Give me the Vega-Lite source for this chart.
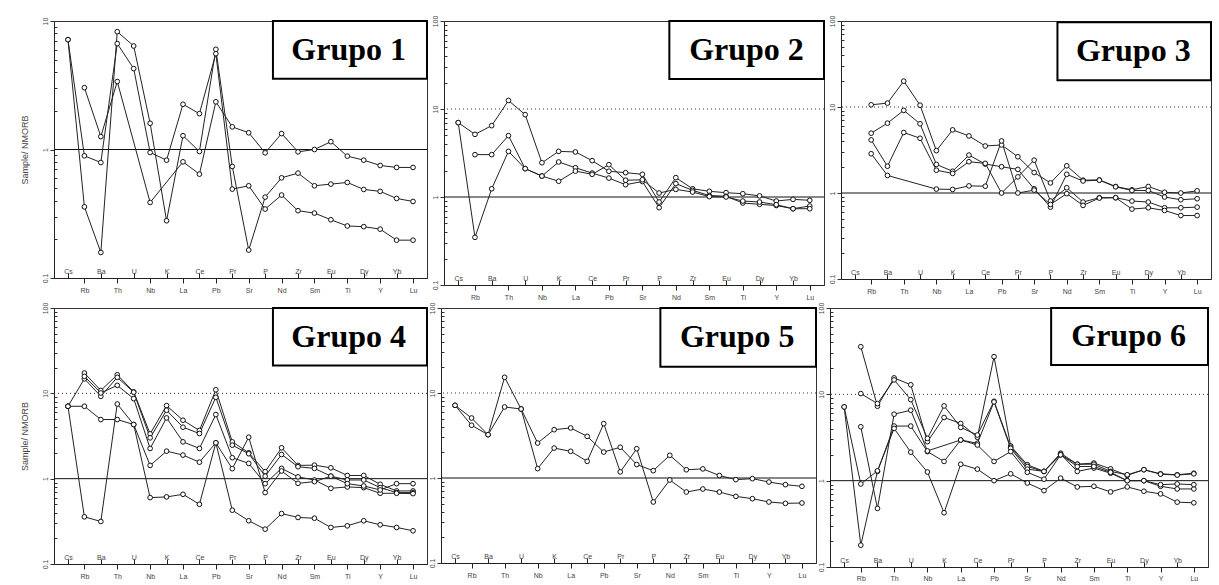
{
"$schema": "https://vega.github.io/schema/vega-lite/v6.json",
"padding": {"left": 19, "top": 14, "right": 5, "bottom": 5},
"background": "white",
"config": {"view": {"stroke": "#333", "strokeWidth": 1}, "font": "Liberation Sans"},
"datasets": {"sp": [
{"g":1,"el":"Cs","a":7.16,"b":7.16},
{"g":1,"el":"Rb","a":0.893,"b":0.358,"c":3.03},
{"g":1,"el":"Ba","a":0.792,"b":0.158,"c":1.26},
{"g":1,"el":"Th","a":6.67,"b":8.26,"c":3.38},
{"g":1,"el":"U","a":4.26,"b":6.39},
{"g":1,"el":"Nb","a":0.948,"b":1.6,"c":0.387},
{"g":1,"el":"K","a":0.826,"b":0.279},
{"g":1,"el":"La","a":2.25,"b":1.28,"c":0.802},
{"g":1,"el":"Ce","a":1.9,"b":0.965,"c":0.643},
{"g":1,"el":"Pb","a":5.57,"b":6.02,"c":2.35},
{"g":1,"el":"Pr","a":0.492,"b":0.738,"c":1.5},
{"g":1,"el":"Sr","a":0.522,"b":0.165,"c":1.35},
{"g":1,"el":"P","a":0.344,"b":0.426,"c":0.942},
{"g":1,"el":"Nd","a":0.442,"b":0.602,"c":1.33},
{"g":1,"el":"Zr","a":0.334,"b":0.655,"c":0.959},
{"g":1,"el":"Sm","a":0.32,"b":0.522,"c":1.0},
{"g":1,"el":"Eu","a":0.284,"b":0.538,"c":1.15},
{"g":1,"el":"Ti","a":0.254,"b":0.554,"c":0.888},
{"g":1,"el":"Dy","a":0.251,"b":0.489,"c":0.826},
{"g":1,"el":"Y","a":0.24,"b":0.472,"c":0.751},
{"g":1,"el":"Yb","a":0.197,"b":0.416,"c":0.725},
{"g":1,"el":"Lu","a":0.197,"b":0.394,"c":0.725},
{"g":2,"el":"Cs","a":7.0,"c":7.0},
{"g":2,"el":"Rb","a":5.15,"b":3.03,"c":0.348},
{"g":2,"el":"Ba","a":6.47,"b":3.03,"c":1.24},
{"g":2,"el":"Th","a":12.5,"b":4.98,"c":3.3},
{"g":2,"el":"U","a":8.62,"b":2.1,"c":2.1},
{"g":2,"el":"Nb","a":2.45,"b":1.73,"c":1.73},
{"g":2,"el":"K","a":3.3,"b":2.5,"c":1.51},
{"g":2,"el":"La","a":3.25,"b":2.15,"c":1.97},
{"g":2,"el":"Ce","a":2.59,"b":1.87,"c":1.81},
{"g":2,"el":"Pb","a":1.96,"b":1.64,"c":2.33},
{"g":2,"el":"Pr","a":1.89,"b":1.38,"c":1.55},
{"g":2,"el":"Sr","a":1.81,"b":1.5,"c":1.57},
{"g":2,"el":"P","a":0.877,"b":0.756,"c":1.11},
{"g":2,"el":"Nd","a":1.66,"b":1.42,"c":1.22},
{"g":2,"el":"Zr","a":1.24,"b":1.19,"c":1.14},
{"g":2,"el":"Sm","a":1.16,"b":1.04,"c":1.01},
{"g":2,"el":"Eu","a":1.12,"b":1.02,"c":1.0},
{"g":2,"el":"Ti","a":1.09,"b":0.855,"c":0.9},
{"g":2,"el":"Dy","a":1.03,"b":0.826,"c":0.877},
{"g":2,"el":"Y","a":0.9,"b":0.8,"c":0.818},
{"g":2,"el":"Yb","a":0.94,"b":0.736,"c":0.736},
{"g":2,"el":"Lu","a":0.917,"b":0.79,"c":0.736},
{"g":3,"el":"Rb","a":10.6,"b":4.96,"c":4.14,"d":2.86},
{"g":3,"el":"Ba","a":11.1,"b":6.49,"c":2.05,"d":1.6},
{"g":3,"el":"Th","a":20.0,"b":9.14,"c":5.05},
{"g":3,"el":"U","a":10.5,"b":6.38,"c":4.33},
{"g":3,"el":"Nb","a":3.11,"b":2.15,"c":1.84,"d":1.11},
{"g":3,"el":"K","a":5.42,"b":1.79,"c":1.69,"d":1.1},
{"g":3,"el":"La","a":4.61,"b":2.76,"c":2.31,"d":1.21},
{"g":3,"el":"Ce","a":3.52,"b":2.17,"c":2.21,"d":1.2},
{"g":3,"el":"Pb","a":3.62,"b":2.02,"c":1.0,"d":4.03},
{"g":3,"el":"Pr","a":2.64,"b":1.88,"c":1.54,"d":1.0},
{"g":3,"el":"Sr","a":1.73,"b":1.12,"c":2.41,"d":1.08},
{"g":3,"el":"P","a":1.31,"b":0.685,"c":0.806,"d":0.736},
{"g":3,"el":"Nd","a":2.07,"b":1.65,"c":1.15,"d":0.982},
{"g":3,"el":"Zr","a":1.41,"b":1.38,"c":0.785,"d":0.717},
{"g":3,"el":"Sm","a":1.42,"b":1.41,"c":0.882,"d":0.874},
{"g":3,"el":"Eu","a":1.19,"b":1.18,"c":0.882,"d":0.882},
{"g":3,"el":"Ti","a":1.09,"b":1.07,"c":0.806,"d":0.65},
{"g":3,"el":"Dy","a":1.19,"b":1.07,"c":0.785,"d":0.673},
{"g":3,"el":"Y","a":1.02,"b":0.898,"c":0.673,"d":0.626},
{"g":3,"el":"Yb","a":1.0,"b":0.835,"c":0.673,"d":0.547},
{"g":3,"el":"Lu","a":1.06,"b":0.858,"c":0.685,"d":0.547},
{"g":4,"el":"Cs","b":7.05,"d":7.05,"e":7.05},
{"g":4,"el":"Rb","a":17.3,"b":14.8,"c":15.8,"d":7.05,"e":0.357},
{"g":4,"el":"Ba","a":10.8,"b":9.22,"c":10.1,"d":4.93,"e":0.315},
{"g":4,"el":"Th","a":16.5,"b":15.4,"c":12.4,"d":4.93,"e":7.5},
{"g":4,"el":"U","a":10.4,"b":10.3,"c":8.67,"d":4.31,"e":4.31},
{"g":4,"el":"Nb","a":3.35,"b":3.01,"c":2.26,"d":1.43,"e":0.6},
{"g":4,"el":"K","a":7.18,"b":6.34,"c":5.15,"d":2.1,"e":0.611},
{"g":4,"el":"La","a":4.84,"b":4.01,"c":2.7,"d":1.89,"e":0.656},
{"g":4,"el":"Ce","a":3.67,"b":3.38,"c":2.26,"d":1.56,"e":0.501},
{"g":4,"el":"Pb","a":11.0,"b":8.98,"c":5.64,"d":2.63,"e":2.63},
{"g":4,"el":"Pr","a":2.7,"b":2.47,"c":1.76,"d":1.31,"e":0.427},
{"g":4,"el":"Sr","a":2.01,"b":1.96,"c":1.51,"d":3.06,"e":0.321},
{"g":4,"el":"P","a":1.21,"b":1.07,"c":0.874,"d":0.687,"e":0.256},
{"g":4,"el":"Nd","a":2.3,"b":1.92,"c":1.32,"d":1.23,"e":0.39},
{"g":4,"el":"Zr","a":1.43,"b":1.38,"c":1.05,"d":0.882,"e":0.351},
{"g":4,"el":"Sm","a":1.44,"b":1.32,"c":0.965,"d":0.923,"e":0.344},
{"g":4,"el":"Eu","a":1.34,"b":1.07,"c":0.771,"d":1.07,"e":0.268},
{"g":4,"el":"Ti","a":1.09,"b":0.965,"c":0.8,"d":0.874,"e":0.28},
{"g":4,"el":"Dy","a":1.09,"b":0.965,"c":0.785,"d":0.821,"e":0.321},
{"g":4,"el":"Y","a":0.859,"b":0.785,"c":0.674,"d":0.738,"e":0.288},
{"g":4,"el":"Yb","a":0.718,"b":0.687,"c":0.674,"d":0.874,"e":0.268},
{"g":4,"el":"Lu","a":0.718,"b":0.687,"c":0.668,"d":0.874,"e":0.245},
{"g":5,"el":"Cs","a":7.16,"b":7.16},
{"g":5,"el":"Rb","a":5.08,"b":4.17},
{"g":5,"el":"Ba","a":3.23,"b":3.23},
{"g":5,"el":"Th","a":15.3,"b":6.85},
{"g":5,"el":"U","a":6.48,"b":6.48},
{"g":5,"el":"Nb","a":2.58,"b":1.29},
{"g":5,"el":"K","a":3.7,"b":2.25},
{"g":5,"el":"La","a":3.88,"b":2.06},
{"g":5,"el":"Ce","a":3.09,"b":1.57},
{"g":5,"el":"Pb","a":2.02,"b":4.36},
{"g":5,"el":"Pr","a":2.3,"b":1.18},
{"g":5,"el":"Sr","a":1.44,"b":2.21},
{"g":5,"el":"P","a":1.22,"b":0.522},
{"g":5,"el":"Nd","a":1.85,"b":0.947},
{"g":5,"el":"Zr","a":1.25,"b":0.684},
{"g":5,"el":"Sm","a":1.28,"b":0.742},
{"g":5,"el":"Eu","a":1.07,"b":0.684},
{"g":5,"el":"Ti","a":0.956,"b":0.608},
{"g":5,"el":"Dy","a":0.982,"b":0.571},
{"g":5,"el":"Y","a":0.897,"b":0.522},
{"g":5,"el":"Yb","a":0.835,"b":0.503},
{"g":5,"el":"Lu","a":0.798,"b":0.508},
{"g":6,"el":"Cs","c":7.15,"e":7.15},
{"g":6,"el":"Rb","a":35.6,"b":10.2,"c":0.179,"d":4.21,"e":0.916},
{"g":6,"el":"Ba","a":7.28,"b":7.81,"c":1.28,"d":0.477,"e":1.3},
{"g":6,"el":"Th","a":15.5,"b":14.7,"c":4.29,"d":5.89,"e":4.03},
{"g":6,"el":"U","a":12.9,"b":8.68,"c":4.29,"d":6.55,"e":2.14},
{"g":6,"el":"Nb","a":2.83,"b":3.09,"c":2.17,"d":2.21,"e":1.26},
{"g":6,"el":"K","a":5.39,"b":7.34,"c":1.67,"e":0.425},
{"g":6,"el":"La","a":4.6,"b":4.14,"c":2.96,"d":2.96,"e":1.55},
{"g":6,"el":"Ce","a":3.18,"b":3.38,"c":2.71,"d":2.59,"e":1.36},
{"g":6,"el":"Pb","a":27.3,"b":8.31,"c":8.17,"d":1.67,"e":1.0},
{"g":6,"el":"Pr","a":2.52,"b":2.44,"c":2.37,"d":2.17,"e":1.2},
{"g":6,"el":"Sr","a":1.53,"b":1.46,"c":1.36,"d":1.25,"e":0.94},
{"g":6,"el":"P","a":1.28,"b":1.28,"c":1.28,"d":1.04,"e":0.767},
{"g":6,"el":"Nd","a":2.08,"b":1.99,"c":2.03,"d":1.99,"e":1.07},
{"g":6,"el":"Zr","a":1.55,"b":1.55,"c":1.28,"d":1.46,"e":0.846},
{"g":6,"el":"Sm","a":1.6,"b":1.55,"c":1.4,"d":1.46,"e":0.861},
{"g":6,"el":"Eu","a":1.37,"b":1.28,"c":1.22,"d":1.25,"e":0.741},
{"g":6,"el":"Ti","a":1.15,"b":1.17,"c":1.0,"d":1.0,"e":0.846},
{"g":6,"el":"Dy","a":1.34,"b":1.34,"c":1.0,"d":1.0,"e":0.754},
{"g":6,"el":"Y","a":1.2,"b":1.19,"c":0.861,"d":0.899,"e":0.703},
{"g":6,"el":"Yb","a":1.17,"b":1.16,"c":0.802,"d":0.916,"e":0.564},
{"g":6,"el":"Lu","a":1.22,"b":1.2,"c":0.802,"d":0.899,"e":0.554}
]},
"spacing": 0,
"vconcat": [
{"bounds": "flush", "spacing": 17, "hconcat": [
{"width": 373, "height": 257, "resolve": {"scale": {"x": "independent", "y": "independent"}},
 "layer": [
  {"layer": [
    {"data": {"values": [{}]}, "mark": {"type": "rule", "color": "#111", "strokeWidth": 1}, "encoding": {"y": {"datum": 1, "type": "quantitative", "scale": {"type": "log", "domain": [0.1, 10]}}}},
    {"data": {"name": "sp"}, "transform": [{"filter": "datum.g == 1"}, {"fold": ["a","b","c","d","e"], "as": ["s","v"]}, {"filter": "isValid(datum.v)"}],
     "mark": {"type": "line", "color": "#222", "strokeWidth": 1, "point": {"shape": "circle", "filled": true, "fill": "white", "stroke": "#111", "strokeWidth": 1, "size": 22}},
     "encoding": {
       "x": {"field": "el", "type": "ordinal", "sort": null, "scale": {"type": "point", "padding": 0.85, "domain": ["Cs","Rb","Ba","Th","U","Nb","K","La","Ce","Pb","Pr","Sr","P","Nd","Zr","Sm","Eu","Ti","Dy","Y","Yb","Lu"]},
         "axis": {"title": null, "labelFontSize": 7, "labelColor": "#444", "domainColor": "#222", "tickColor": "#222", "labelAngle": 0, "labelOverlap": false,
           "tickSize": {"condition": {"test": "indexof(['Cs','Ba','U','K','Ce','Pr','P','Zr','Eu','Dy','Yb'], datum.value) >= 0", "value": -5}, "value": 5},
           "labelPadding": {"condition": {"test": "indexof(['Cs','Ba','U','K','Ce','Pr','P','Zr','Eu','Dy','Yb'], datum.value) >= 0", "value": -6}, "value": 3}}},
       "y": {"field": "v", "type": "quantitative", "scale": {"type": "log", "domain": [0.1, 10]},
         "axis": {"title": "Sample/ NMORB", "titleFontSize": 9, "titleFontWeight": "normal", "titleColor": "#444", "titlePadding": 12,
           "values": [0.1,0.2,0.3,0.4,0.5,0.6,0.7,0.8,0.9,1,2,3,4,5,6,7,8,9,10],
           "labelExpr": "indexof([0.1,1,10,100], datum.value) >= 0 ? '' + datum.value : ''",
           "labelAngle": 270, "labelAlign": "center", "labelBaseline": "bottom", "labelFontSize": 7, "labelColor": "#444", "labelPadding": 2, "grid": false, "domainColor": "#222", "tickColor": "#333",
           "tickSize": {"condition": {"test": "indexof([0.1,1,10,100], datum.value) >= 0", "value": 4}, "value": -3}}},
       "detail": {"field": "s"},
       "order": {"value": null}}}
  ]},
  {"data": {"values": [{"label": "Grupo 1"}]},
   "layer": [
    {"mark": {"type": "rect", "fill": "white", "stroke": "black", "strokeWidth": 2},
     "encoding": {"x": {"datum": 0.587, "type": "quantitative", "scale": {"domain": [0, 1]}, "axis": null}, "x2": {"datum": 1}, "y": {"datum": 0.775, "type": "quantitative", "scale": {"domain": [0, 1]}, "axis": null}, "y2": {"datum": 1}}},
    {"mark": {"type": "text", "font": "Liberation Serif", "fontWeight": "bold", "fontSize": 32, "color": "black", "align": "center", "baseline": "middle"},
     "encoding": {"x": {"datum": 0.79, "type": "quantitative", "scale": {"domain": [0, 1]}, "axis": null}, "y": {"datum": 0.8875, "type": "quantitative", "scale": {"domain": [0, 1]}, "axis": null}, "text": {"field": "label"}}}
   ]}
 ]},
{"width": 380, "height": 264, "resolve": {"scale": {"x": "independent", "y": "independent"}},
 "layer": [
  {"layer": [
    {"data": {"values": [{}]}, "mark": {"type": "rule", "color": "#111", "strokeWidth": 1}, "encoding": {"y": {"datum": 1, "type": "quantitative", "scale": {"type": "log", "domain": [0.1, 100]}}}},
    {"data": {"values": [{}]}, "mark": {"type": "rule", "color": "#333", "strokeWidth": 1, "strokeDash": [1, 3]}, "encoding": {"y": {"datum": 10, "type": "quantitative", "scale": {"type": "log", "domain": [0.1, 100]}}}},
    {"data": {"name": "sp"}, "transform": [{"filter": "datum.g == 2"}, {"fold": ["a","b","c","d","e"], "as": ["s","v"]}, {"filter": "isValid(datum.v)"}],
     "mark": {"type": "line", "color": "#222", "strokeWidth": 1, "point": {"shape": "circle", "filled": true, "fill": "white", "stroke": "#111", "strokeWidth": 1, "size": 22}},
     "encoding": {
       "x": {"field": "el", "type": "ordinal", "sort": null, "scale": {"type": "point", "padding": 0.85, "domain": ["Cs","Rb","Ba","Th","U","Nb","K","La","Ce","Pb","Pr","Sr","P","Nd","Zr","Sm","Eu","Ti","Dy","Y","Yb","Lu"]},
         "axis": {"title": null, "labelFontSize": 7, "labelColor": "#444", "domainColor": "#222", "tickColor": "#222", "labelAngle": 0, "labelOverlap": false,
           "tickSize": {"condition": {"test": "indexof(['Cs','Ba','U','K','Ce','Pr','P','Zr','Eu','Dy','Yb'], datum.value) >= 0", "value": -5}, "value": 5},
           "labelPadding": {"condition": {"test": "indexof(['Cs','Ba','U','K','Ce','Pr','P','Zr','Eu','Dy','Yb'], datum.value) >= 0", "value": -6}, "value": 3}}},
       "y": {"field": "v", "type": "quantitative", "scale": {"type": "log", "domain": [0.1, 100]},
         "axis": {"title": null,
           "values": [0.1,0.2,0.3,0.4,0.5,0.6,0.7,0.8,0.9,1,2,3,4,5,6,7,8,9,10,20,30,40,50,60,70,80,90,100],
           "labelExpr": "indexof([0.1,1,10,100], datum.value) >= 0 ? '' + datum.value : ''",
           "labelAngle": 270, "labelAlign": "center", "labelBaseline": "bottom", "labelFontSize": 7, "labelColor": "#444", "labelPadding": 2, "grid": false, "domainColor": "#222", "tickColor": "#333",
           "tickSize": {"condition": {"test": "indexof([0.1,1,10,100], datum.value) >= 0", "value": 4}, "value": -3}}},
       "detail": {"field": "s"},
       "order": {"value": null}}}
  ]},
  {"data": {"values": [{"label": "Grupo 2"}]},
   "layer": [
    {"mark": {"type": "rect", "fill": "white", "stroke": "black", "strokeWidth": 2},
     "encoding": {"x": {"datum": 0.593, "type": "quantitative", "scale": {"domain": [0, 1]}, "axis": null}, "x2": {"datum": 1}, "y": {"datum": 0.78, "type": "quantitative", "scale": {"domain": [0, 1]}, "axis": null}, "y2": {"datum": 1}}},
    {"mark": {"type": "text", "font": "Liberation Serif", "fontWeight": "bold", "fontSize": 32, "color": "black", "align": "center", "baseline": "middle"},
     "encoding": {"x": {"datum": 0.796, "type": "quantitative", "scale": {"domain": [0, 1]}, "axis": null}, "y": {"datum": 0.89, "type": "quantitative", "scale": {"domain": [0, 1]}, "axis": null}, "text": {"field": "label"}}}
   ]}
 ]},
{"width": 370, "height": 258, "resolve": {"scale": {"x": "independent", "y": "independent"}},
 "layer": [
  {"layer": [
    {"data": {"values": [{}]}, "mark": {"type": "rule", "color": "#111", "strokeWidth": 1}, "encoding": {"y": {"datum": 1, "type": "quantitative", "scale": {"type": "log", "domain": [0.1, 100]}}}},
    {"data": {"values": [{}]}, "mark": {"type": "rule", "color": "#333", "strokeWidth": 1, "strokeDash": [1, 3]}, "encoding": {"y": {"datum": 10, "type": "quantitative", "scale": {"type": "log", "domain": [0.1, 100]}}}},
    {"data": {"name": "sp"}, "transform": [{"filter": "datum.g == 3"}, {"fold": ["a","b","c","d","e"], "as": ["s","v"]}, {"filter": "isValid(datum.v)"}],
     "mark": {"type": "line", "color": "#222", "strokeWidth": 1, "point": {"shape": "circle", "filled": true, "fill": "white", "stroke": "#111", "strokeWidth": 1, "size": 22}},
     "encoding": {
       "x": {"field": "el", "type": "ordinal", "sort": null, "scale": {"type": "point", "padding": 0.85, "domain": ["Cs","Rb","Ba","Th","U","Nb","K","La","Ce","Pb","Pr","Sr","P","Nd","Zr","Sm","Eu","Ti","Dy","Y","Yb","Lu"]},
         "axis": {"title": null, "labelFontSize": 7, "labelColor": "#444", "domainColor": "#222", "tickColor": "#222", "labelAngle": 0, "labelOverlap": false,
           "tickSize": {"condition": {"test": "indexof(['Cs','Ba','U','K','Ce','Pr','P','Zr','Eu','Dy','Yb'], datum.value) >= 0", "value": -5}, "value": 5},
           "labelPadding": {"condition": {"test": "indexof(['Cs','Ba','U','K','Ce','Pr','P','Zr','Eu','Dy','Yb'], datum.value) >= 0", "value": -6}, "value": 3}}},
       "y": {"field": "v", "type": "quantitative", "scale": {"type": "log", "domain": [0.1, 100]},
         "axis": {"title": null,
           "values": [0.1,0.2,0.3,0.4,0.5,0.6,0.7,0.8,0.9,1,2,3,4,5,6,7,8,9,10,20,30,40,50,60,70,80,90,100],
           "labelExpr": "indexof([0.1,1,10,100], datum.value) >= 0 ? '' + datum.value : ''",
           "labelAngle": 270, "labelAlign": "center", "labelBaseline": "bottom", "labelFontSize": 7, "labelColor": "#444", "labelPadding": 2, "grid": false, "domainColor": "#222", "tickColor": "#333",
           "tickSize": {"condition": {"test": "indexof([0.1,1,10,100], datum.value) >= 0", "value": 4}, "value": -3}}},
       "detail": {"field": "s"},
       "order": {"value": null}}}
  ]},
  {"data": {"values": [{"label": "Grupo 3"}]},
   "layer": [
    {"mark": {"type": "rect", "fill": "white", "stroke": "black", "strokeWidth": 2},
     "encoding": {"x": {"datum": 0.585, "type": "quantitative", "scale": {"domain": [0, 1]}, "axis": null}, "x2": {"datum": 1}, "y": {"datum": 0.77, "type": "quantitative", "scale": {"domain": [0, 1]}, "axis": null}, "y2": {"datum": 0.995}}},
    {"mark": {"type": "text", "font": "Liberation Serif", "fontWeight": "bold", "fontSize": 32, "color": "black", "align": "center", "baseline": "middle"},
     "encoding": {"x": {"datum": 0.79, "type": "quantitative", "scale": {"domain": [0, 1]}, "axis": null}, "y": {"datum": 0.8825, "type": "quantitative", "scale": {"domain": [0, 1]}, "axis": null}, "text": {"field": "label"}}}
   ]}
 ]}
]},
{"bounds": "flush", "spacing": 14, "hconcat": [
{"width": 373, "height": 256, "resolve": {"scale": {"x": "independent", "y": "independent"}},
 "layer": [
  {"layer": [
    {"data": {"values": [{}]}, "mark": {"type": "rule", "color": "#111", "strokeWidth": 1}, "encoding": {"y": {"datum": 1, "type": "quantitative", "scale": {"type": "log", "domain": [0.1, 100]}}}},
    {"data": {"values": [{}]}, "mark": {"type": "rule", "color": "#333", "strokeWidth": 1, "strokeDash": [1, 3]}, "encoding": {"y": {"datum": 10, "type": "quantitative", "scale": {"type": "log", "domain": [0.1, 100]}}}},
    {"data": {"name": "sp"}, "transform": [{"filter": "datum.g == 4"}, {"fold": ["a","b","c","d","e"], "as": ["s","v"]}, {"filter": "isValid(datum.v)"}],
     "mark": {"type": "line", "color": "#222", "strokeWidth": 1, "point": {"shape": "circle", "filled": true, "fill": "white", "stroke": "#111", "strokeWidth": 1, "size": 22}},
     "encoding": {
       "x": {"field": "el", "type": "ordinal", "sort": null, "scale": {"type": "point", "padding": 0.85, "domain": ["Cs","Rb","Ba","Th","U","Nb","K","La","Ce","Pb","Pr","Sr","P","Nd","Zr","Sm","Eu","Ti","Dy","Y","Yb","Lu"]},
         "axis": {"title": null, "labelFontSize": 7, "labelColor": "#444", "domainColor": "#222", "tickColor": "#222", "labelAngle": 0, "labelOverlap": false,
           "tickSize": {"condition": {"test": "indexof(['Cs','Ba','U','K','Ce','Pr','P','Zr','Eu','Dy','Yb'], datum.value) >= 0", "value": -5}, "value": 5},
           "labelPadding": {"condition": {"test": "indexof(['Cs','Ba','U','K','Ce','Pr','P','Zr','Eu','Dy','Yb'], datum.value) >= 0", "value": -6}, "value": 3}}},
       "y": {"field": "v", "type": "quantitative", "scale": {"type": "log", "domain": [0.1, 100]},
         "axis": {"title": "Sample/ NMORB", "titleFontSize": 9, "titleFontWeight": "normal", "titleColor": "#444", "titlePadding": 12,
           "values": [0.1,0.2,0.3,0.4,0.5,0.6,0.7,0.8,0.9,1,2,3,4,5,6,7,8,9,10,20,30,40,50,60,70,80,90,100],
           "labelExpr": "indexof([0.1,1,10,100], datum.value) >= 0 ? '' + datum.value : ''",
           "labelAngle": 270, "labelAlign": "center", "labelBaseline": "bottom", "labelFontSize": 7, "labelColor": "#444", "labelPadding": 2, "grid": false, "domainColor": "#222", "tickColor": "#333",
           "tickSize": {"condition": {"test": "indexof([0.1,1,10,100], datum.value) >= 0", "value": 4}, "value": -3}}},
       "detail": {"field": "s"},
       "order": {"value": null}}}
  ]},
  {"data": {"values": [{"label": "Grupo 4"}]},
   "layer": [
    {"mark": {"type": "rect", "fill": "white", "stroke": "black", "strokeWidth": 2},
     "encoding": {"x": {"datum": 0.587, "type": "quantitative", "scale": {"domain": [0, 1]}, "axis": null}, "x2": {"datum": 1}, "y": {"datum": 0.775, "type": "quantitative", "scale": {"domain": [0, 1]}, "axis": null}, "y2": {"datum": 1}}},
    {"mark": {"type": "text", "font": "Liberation Serif", "fontWeight": "bold", "fontSize": 32, "color": "black", "align": "center", "baseline": "middle"},
     "encoding": {"x": {"datum": 0.79, "type": "quantitative", "scale": {"domain": [0, 1]}, "axis": null}, "y": {"datum": 0.8875, "type": "quantitative", "scale": {"domain": [0, 1]}, "axis": null}, "text": {"field": "label"}}}
   ]}
 ]},
{"width": 375, "height": 255, "resolve": {"scale": {"x": "independent", "y": "independent"}},
 "layer": [
  {"layer": [
    {"data": {"values": [{}]}, "mark": {"type": "rule", "color": "#111", "strokeWidth": 1}, "encoding": {"y": {"datum": 1, "type": "quantitative", "scale": {"type": "log", "domain": [0.1, 100]}}}},
    {"data": {"values": [{}]}, "mark": {"type": "rule", "color": "#333", "strokeWidth": 1, "strokeDash": [1, 3]}, "encoding": {"y": {"datum": 10, "type": "quantitative", "scale": {"type": "log", "domain": [0.1, 100]}}}},
    {"data": {"name": "sp"}, "transform": [{"filter": "datum.g == 5"}, {"fold": ["a","b","c","d","e"], "as": ["s","v"]}, {"filter": "isValid(datum.v)"}],
     "mark": {"type": "line", "color": "#222", "strokeWidth": 1, "point": {"shape": "circle", "filled": true, "fill": "white", "stroke": "#111", "strokeWidth": 1, "size": 22}},
     "encoding": {
       "x": {"field": "el", "type": "ordinal", "sort": null, "scale": {"type": "point", "padding": 0.85, "domain": ["Cs","Rb","Ba","Th","U","Nb","K","La","Ce","Pb","Pr","Sr","P","Nd","Zr","Sm","Eu","Ti","Dy","Y","Yb","Lu"]},
         "axis": {"title": null, "labelFontSize": 7, "labelColor": "#444", "domainColor": "#222", "tickColor": "#222", "labelAngle": 0, "labelOverlap": false,
           "tickSize": {"condition": {"test": "indexof(['Cs','Ba','U','K','Ce','Pr','P','Zr','Eu','Dy','Yb'], datum.value) >= 0", "value": -5}, "value": 5},
           "labelPadding": {"condition": {"test": "indexof(['Cs','Ba','U','K','Ce','Pr','P','Zr','Eu','Dy','Yb'], datum.value) >= 0", "value": -6}, "value": 3}}},
       "y": {"field": "v", "type": "quantitative", "scale": {"type": "log", "domain": [0.1, 100]},
         "axis": {"title": null,
           "values": [0.1,0.2,0.3,0.4,0.5,0.6,0.7,0.8,0.9,1,2,3,4,5,6,7,8,9,10,20,30,40,50,60,70,80,90,100],
           "labelExpr": "indexof([0.1,1,10,100], datum.value) >= 0 ? '' + datum.value : ''",
           "labelAngle": 270, "labelAlign": "center", "labelBaseline": "bottom", "labelFontSize": 7, "labelColor": "#444", "labelPadding": 2, "grid": false, "domainColor": "#222", "tickColor": "#333",
           "tickSize": {"condition": {"test": "indexof([0.1,1,10,100], datum.value) >= 0", "value": 4}, "value": -3}}},
       "detail": {"field": "s"},
       "order": {"value": null}}}
  ]},
  {"data": {"values": [{"label": "Grupo 5"}]},
   "layer": [
    {"mark": {"type": "rect", "fill": "white", "stroke": "black", "strokeWidth": 2},
     "encoding": {"x": {"datum": 0.585, "type": "quantitative", "scale": {"domain": [0, 1]}, "axis": null}, "x2": {"datum": 1}, "y": {"datum": 0.77, "type": "quantitative", "scale": {"domain": [0, 1]}, "axis": null}, "y2": {"datum": 1}}},
    {"mark": {"type": "text", "font": "Liberation Serif", "fontWeight": "bold", "fontSize": 32, "color": "black", "align": "center", "baseline": "middle"},
     "encoding": {"x": {"datum": 0.79, "type": "quantitative", "scale": {"domain": [0, 1]}, "axis": null}, "y": {"datum": 0.885, "type": "quantitative", "scale": {"domain": [0, 1]}, "axis": null}, "text": {"field": "label"}}}
   ]}
 ]},
{"width": 378, "height": 259, "resolve": {"scale": {"x": "independent", "y": "independent"}},
 "layer": [
  {"layer": [
    {"data": {"values": [{}]}, "mark": {"type": "rule", "color": "#111", "strokeWidth": 1}, "encoding": {"y": {"datum": 1, "type": "quantitative", "scale": {"type": "log", "domain": [0.1, 100]}}}},
    {"data": {"values": [{}]}, "mark": {"type": "rule", "color": "#333", "strokeWidth": 1, "strokeDash": [1, 3]}, "encoding": {"y": {"datum": 10, "type": "quantitative", "scale": {"type": "log", "domain": [0.1, 100]}}}},
    {"data": {"name": "sp"}, "transform": [{"filter": "datum.g == 6"}, {"fold": ["a","b","c","d","e"], "as": ["s","v"]}, {"filter": "isValid(datum.v)"}],
     "mark": {"type": "line", "color": "#222", "strokeWidth": 1, "point": {"shape": "circle", "filled": true, "fill": "white", "stroke": "#111", "strokeWidth": 1, "size": 22}},
     "encoding": {
       "x": {"field": "el", "type": "ordinal", "sort": null, "scale": {"type": "point", "padding": 0.85, "domain": ["Cs","Rb","Ba","Th","U","Nb","K","La","Ce","Pb","Pr","Sr","P","Nd","Zr","Sm","Eu","Ti","Dy","Y","Yb","Lu"]},
         "axis": {"title": null, "labelFontSize": 7, "labelColor": "#444", "domainColor": "#222", "tickColor": "#222", "labelAngle": 0, "labelOverlap": false,
           "tickSize": {"condition": {"test": "indexof(['Cs','Ba','U','K','Ce','Pr','P','Zr','Eu','Dy','Yb'], datum.value) >= 0", "value": -5}, "value": 5},
           "labelPadding": {"condition": {"test": "indexof(['Cs','Ba','U','K','Ce','Pr','P','Zr','Eu','Dy','Yb'], datum.value) >= 0", "value": -6}, "value": 2}}},
       "y": {"field": "v", "type": "quantitative", "scale": {"type": "log", "domain": [0.1, 100]},
         "axis": {"title": null,
           "values": [0.1,0.2,0.3,0.4,0.5,0.6,0.7,0.8,0.9,1,2,3,4,5,6,7,8,9,10,20,30,40,50,60,70,80,90,100],
           "labelExpr": "indexof([0.1,1,10,100], datum.value) >= 0 ? '' + datum.value : ''",
           "labelAngle": 270, "labelAlign": "center", "labelBaseline": "bottom", "labelFontSize": 7, "labelColor": "#444", "labelPadding": 2, "grid": false, "domainColor": "#222", "tickColor": "#333",
           "tickSize": {"condition": {"test": "indexof([0.1,1,10,100], datum.value) >= 0", "value": 4}, "value": -3}}},
       "detail": {"field": "s"},
       "order": {"value": null}}}
  ]},
  {"data": {"values": [{"label": "Grupo 6"}]},
   "layer": [
    {"mark": {"type": "rect", "fill": "white", "stroke": "black", "strokeWidth": 2},
     "encoding": {"x": {"datum": 0.585, "type": "quantitative", "scale": {"domain": [0, 1]}, "axis": null}, "x2": {"datum": 1}, "y": {"datum": 0.78, "type": "quantitative", "scale": {"domain": [0, 1]}, "axis": null}, "y2": {"datum": 1}}},
    {"mark": {"type": "text", "font": "Liberation Serif", "fontWeight": "bold", "fontSize": 32, "color": "black", "align": "center", "baseline": "middle"},
     "encoding": {"x": {"datum": 0.79, "type": "quantitative", "scale": {"domain": [0, 1]}, "axis": null}, "y": {"datum": 0.89, "type": "quantitative", "scale": {"domain": [0, 1]}, "axis": null}, "text": {"field": "label"}}}
   ]}
 ]}
]}
]
}
